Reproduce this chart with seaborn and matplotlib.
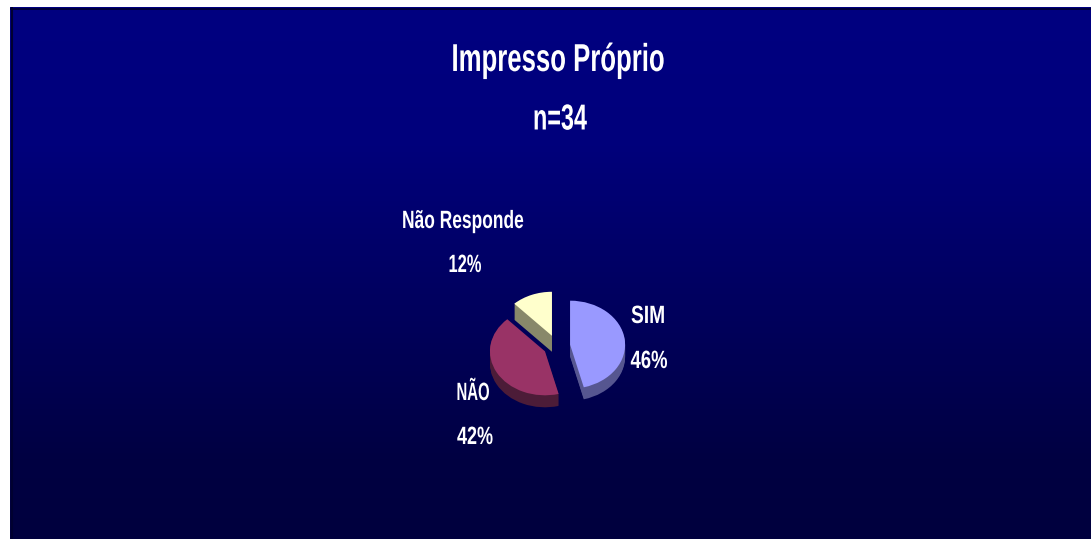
import numpy as np
import matplotlib
matplotlib.use('Agg')
import matplotlib.pyplot as plt
import matplotlib.patheffects as pe
from matplotlib.transforms import Affine2D
import seaborn as sns

sns.set_theme(style='white')
plt.rcParams['font.family'] = ['Liberation Sans', 'DejaVu Sans']

# Data
title = 'Impresso Próprio'
subtitle = 'n=34'
categories = ['SIM', 'NÃO', 'Não Responde']
values = [46, 42, 12]
percent_labels = ['46%', '42%', '12%']

# Styles
explode = [0.24, 0.25, 0.25]
face_colors = ['#9999FF', '#993366', '#FFFFCC']
side_colors = ['#565690', '#4C1C38', '#88886A']
side_depth = [12, 12, 16]

W, H = 1091, 539
fig = plt.figure(figsize=(W / 100, H / 100), dpi=100, facecolor='white')


def px_rect(x0, y0, x1, y1):
    return [x0 / W, 1 - y1 / H, (x1 - x0) / W, (y1 - y0) / H]


# The original type is a squeezed bold sans, so narrow the glyphs around the text centre
class SqueezeX(pe.AbstractPathEffect):
    def __init__(self, sx, xc):
        super().__init__()
        self.sx = sx
        self.xc = xc

    def draw_path(self, renderer, gc, tpath, affine, rgbFace=None):
        squeeze = Affine2D().translate(-self.xc, 0).scale(self.sx, 1).translate(self.xc, 0)
        renderer.draw_path(gc, tpath, affine + squeeze, rgbFace)


# Background gradient
bg = fig.add_axes(px_rect(10, 7, W, H))
grad = np.linspace(0, 1, 256).reshape(-1, 1)
cmap = matplotlib.colors.LinearSegmentedColormap.from_list(
    'bg', [(0, '#000080'), (0.25, '#00007C'), (0.85, '#000042'), (1, '#00003E')])
bg.imshow(grad, aspect='auto', cmap=cmap, vmin=0, vmax=1)
bg.set_xticks([])
bg.set_yticks([])
for s in bg.spines.values():
    s.set_visible(False)
# thin dark frame along the top and left of the panel
bg.axhline(0.7, color='#000030', lw=1.2)
bg.axvline(-0.4985, color='#000030', lw=1.5)

# Pie, squashed ellipse with depth layers
cx, cy, rx, ry = 557, 346, 55, 44
ax = fig.add_axes(px_rect(cx - 2 * rx, cy - 2 * ry, cx + 2 * rx, cy + 2 * ry))
ax.patch.set_alpha(0)
wedge_style = {'linewidth': 0, 'edgecolor': 'none'}
for d in range(max(side_depth), 0, -1):
    cols = [c if d <= sd else 'none' for c, sd in zip(side_colors, side_depth)]
    ax.pie(values, explode=explode, colors=cols, startangle=90, counterclock=False,
           center=(0, -d / ry), radius=1, wedgeprops=wedge_style)
ax.pie(values, explode=explode, colors=face_colors, startangle=90, counterclock=False,
       wedgeprops=wedge_style)
ax.set_aspect('auto')
ax.set_xlim(-2, 2)
ax.set_ylim(-2, 2)
ax.axis('off')

renderer = fig.canvas.get_renderer()


def label(x, y, s, size, width):
    t = fig.text(x / W, 1 - y / H, s, color='white', fontsize=size, fontweight='bold',
                 ha='center', va='center')
    natural = t.get_window_extent(renderer).width
    t.set_path_effects([SqueezeX(width / natural, x)])


label(558, 61, title, 28, 213)
label(560, 120, subtitle, 26, 54)

name_xy = [(648, 316), (473, 393), (463, 221)]
pct_xy = [(649, 361), (475, 437), (465, 265)]
name_widths = [34, 33, 122]
pct_widths = [37, 36, 33]
for name, pct, a, b, nw, pw in zip(categories, percent_labels, name_xy, pct_xy, name_widths, pct_widths):
    label(a[0], a[1], name, 18, nw)
    label(b[0], b[1], pct, 18, pw)

fig.savefig('out.png', dpi=100, facecolor='white')
